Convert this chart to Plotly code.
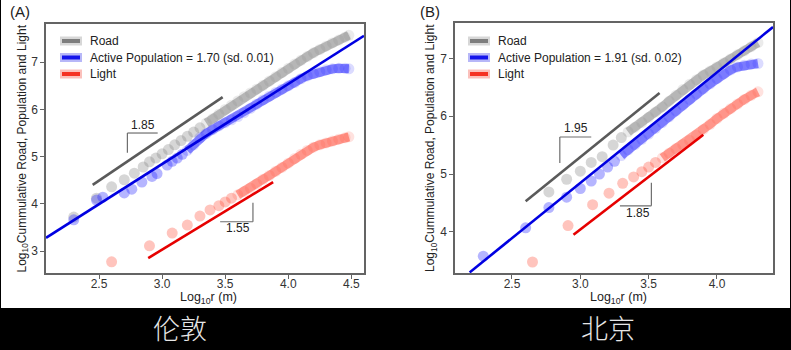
import plotly.graph_objects as go

# ---------------- data (log10 r, log10 cumulative) ----------------
# London (A)
lon_road_x = [2.30, 2.48, 2.60, 2.70, 2.78, 2.85, 2.90, 2.95, 3.00, 3.05, 3.10, 3.15, 3.20, 3.25,
              3.30, 3.35, 3.40, 3.45, 3.50, 3.55, 3.60, 3.65, 3.70, 3.75, 3.80, 3.85, 3.90, 3.95,
              4.00, 4.05, 4.10, 4.15, 4.20, 4.25, 4.30, 4.35, 4.40, 4.45, 4.48]
lon_road_y = [3.72, 4.12, 4.36, 4.51, 4.65, 4.78, 4.89, 4.97, 5.06, 5.15, 5.25, 5.34, 5.43, 5.52,
              5.61, 5.71, 5.80, 5.90, 6.00, 6.09, 6.18, 6.27, 6.35, 6.43, 6.51, 6.60, 6.69, 6.78,
              6.87, 6.96, 7.04, 7.12, 7.20, 7.27, 7.34, 7.41, 7.47, 7.53, 7.57]
lon_pop_x = [2.30, 2.48, 2.53, 2.70, 2.76, 2.84, 2.92, 2.96, 3.04, 3.08, 3.12, 3.16, 3.20, 3.25,
             3.30, 3.35, 3.40, 3.45, 3.50, 3.55, 3.60, 3.65, 3.70, 3.75, 3.80, 3.85, 3.90, 3.95,
             4.00, 4.05, 4.10, 4.15, 4.20, 4.25, 4.30, 4.35, 4.40, 4.45, 4.48]
lon_pop_y = [3.66, 4.08, 4.14, 4.23, 4.31, 4.46, 4.58, 4.64, 4.82, 4.90, 4.97, 5.05, 5.13, 5.25,
             5.40, 5.49, 5.57, 5.65, 5.72, 5.78, 5.85, 5.93, 6.02, 6.11, 6.20, 6.28, 6.36, 6.43,
             6.50, 6.57, 6.65, 6.71, 6.76, 6.80, 6.84, 6.86, 6.87, 6.87, 6.86]
lon_light_x = [2.60, 2.90, 3.08, 3.20, 3.30, 3.38, 3.45, 3.50, 3.55, 3.60, 3.65, 3.70, 3.75, 3.80,
               3.85, 3.90, 3.95, 4.00, 4.05, 4.10, 4.15, 4.20, 4.25, 4.30, 4.35, 4.40, 4.45, 4.48]
lon_light_y = [2.77, 3.11, 3.38, 3.55, 3.74, 3.87, 3.96, 4.04, 4.12, 4.19, 4.26, 4.33, 4.42, 4.52,
               4.60, 4.69, 4.77, 4.86, 4.96, 5.05, 5.13, 5.20, 5.25, 5.29, 5.33, 5.37, 5.40, 5.42]

# Beijing (B)
bj_road_x = [2.77, 2.90, 3.00, 3.08, 3.16, 3.24, 3.30, 3.35, 3.40, 3.45, 3.50, 3.55, 3.60, 3.65,
             3.70, 3.75, 3.80, 3.85, 3.90, 3.95, 4.00, 4.05, 4.10, 4.15, 4.20, 4.25, 4.30]
bj_road_y = [4.69, 4.91, 5.05, 5.20, 5.30, 5.50, 5.63, 5.73, 5.81, 5.89, 5.98, 6.07, 6.16, 6.26,
             6.36, 6.46, 6.55, 6.63, 6.71, 6.78, 6.85, 6.92, 6.99, 7.06, 7.13, 7.20, 7.27]
bj_pop_x = [2.29, 2.60, 2.77, 2.90, 3.00, 3.08, 3.14, 3.20, 3.25, 3.30, 3.35, 3.40, 3.45, 3.50,
            3.55, 3.60, 3.65, 3.70, 3.75, 3.80, 3.85, 3.90, 3.95, 4.00, 4.05, 4.10, 4.15, 4.20,
            4.25, 4.30]
bj_pop_y = [3.58, 4.07, 4.42, 4.60, 4.75, 4.88, 5.00, 5.12, 5.22, 5.32, 5.42, 5.51, 5.60, 5.69,
            5.79, 5.89, 5.99, 6.09, 6.19, 6.29, 6.38, 6.47, 6.56, 6.65, 6.73, 6.80, 6.85, 6.88,
            6.90, 6.91]
bj_light_x = [2.65, 2.91, 3.09, 3.21, 3.31, 3.39, 3.45, 3.50, 3.55, 3.60, 3.65, 3.70, 3.75, 3.80,
              3.85, 3.90, 3.95, 4.00, 4.05, 4.10, 4.15, 4.20, 4.25, 4.30]
bj_light_y = [3.48, 4.11, 4.47, 4.67, 4.84, 4.95, 5.04, 5.12, 5.20, 5.28, 5.36, 5.44, 5.51, 5.58,
              5.67, 5.77, 5.86, 5.96, 6.05, 6.13, 6.21, 6.29, 6.36, 6.42]

# fitted population lines: [x0, x1], [y0, y1]
lon_fit_x = [2.08, 4.60]
lon_fit_y = [3.28, 7.56]
bj_fit_x = [2.19, 4.41]
bj_fit_y = [3.30, 7.54]

# slope guide lines
lon_road_guide_x = [2.45, 3.48]
lon_road_guide_y = [4.40, 6.26]
lon_light_guide_x = [2.89, 3.88]
lon_light_guide_y = [2.85, 4.46]
bj_road_guide_x = [2.60, 3.58]
bj_road_guide_y = [4.53, 6.40]
bj_light_guide_x = [2.95, 3.90]
bj_light_guide_y = [3.95, 5.68]

# slope brackets: (corner x, corner y, other x, other y, label, label x, label y)
lon_brackets = [(2.725, 5.50, 2.965, 5.08, "1.85", 2.85, 5.68),
                (3.72, 3.62, 3.46, 4.02, "1.55", 3.60, 3.48)]
bj_brackets = [(2.85, 5.64, 3.08, 5.19, "1.95", 2.97, 5.79),
               (3.52, 4.45, 3.29, 4.85, "1.85", 3.42, 4.33)]

pop_labels = ["Active Population = 1.70 (sd. 0.01)", "Active Population = 1.91 (sd. 0.02)"]
city_names = ["伦敦", "北京"]
panel_tags = ["(A)", "(B)"]
x_ticks = [[2.5, 3.0, 3.5, 4.0, 4.5], [2.5, 3.0, 3.5, 4.0]]
y_ticks = [[3, 4, 5, 6, 7], [4, 5, 6, 7]]
x_ranges = [[2.08, 4.60], [2.083, 4.41]]
y_ranges = [[2.534, 7.81], [3.29, 7.61]]

# ---------------- styling ----------------
W, H = 791, 350
BLUE, RED = "rgb(30,30,255)", "rgb(255,75,55)"
FONT = "Liberation Sans, Arial, sans-serif"

fig = go.Figure()


def add_series(x, y, color, xa, ya, band_from):
    bx = [a for a in x if a >= band_from]
    by = [b for a, b in zip(x, y) if a >= band_from]
    fig.add_trace(go.Scatter(x=bx, y=by, mode="lines", xaxis=xa, yaxis=ya,
                             line=dict(color=color, width=9), opacity=0.5,
                             showlegend=False, hoverinfo="skip"))
    op = [0.33 if a < band_from else 0.16 for a in x]
    fig.add_trace(go.Scatter(x=x, y=y, mode="markers", xaxis=xa, yaxis=ya,
                             marker=dict(size=11, color=color, opacity=op, line=dict(width=0)),
                             showlegend=False, hoverinfo="skip"))


def add_line(x, y, color, xa, ya, width=2.6):
    fig.add_trace(go.Scatter(x=x, y=y, mode="lines", xaxis=xa, yaxis=ya,
                             line=dict(color=color, width=width), cliponaxis=True,
                             showlegend=False, hoverinfo="skip"))


panels = [
    dict(road=(lon_road_x, lon_road_y), pop=(lon_pop_x, lon_pop_y), light=(lon_light_x, lon_light_y),
         fit=(lon_fit_x, lon_fit_y), rg=(lon_road_guide_x, lon_road_guide_y),
         lg=(lon_light_guide_x, lon_light_guide_y), br=lon_brackets, xa="x", ya="y",
         band=(3.35, 3.2, 3.6)),
    dict(road=(bj_road_x, bj_road_y), pop=(bj_pop_x, bj_pop_y), light=(bj_light_x, bj_light_y),
         fit=(bj_fit_x, bj_fit_y), rg=(bj_road_guide_x, bj_road_guide_y),
         lg=(bj_light_guide_x, bj_light_guide_y), br=bj_brackets, xa="x2", ya="y2",
         band=(3.35, 3.3, 3.6)),
]

for p in panels:
    add_series(*p["road"], "rgb(130,130,130)", p["xa"], p["ya"], p["band"][0])
    add_series(*p["pop"], BLUE, p["xa"], p["ya"], p["band"][1])
    add_series(*p["light"], RED, p["xa"], p["ya"], p["band"][2])
    add_line(*p["rg"], "rgb(90,90,90)", p["xa"], p["ya"])
    add_line(*p["fit"], "rgb(0,0,225)", p["xa"], p["ya"])
    add_line(*p["lg"], "rgb(230,0,0)", p["xa"], p["ya"])

shapes = []
annotations = []

# white page area over black background
shapes.append(dict(type="rect", xref="paper", yref="paper", x0=1 / W, x1=1 - 1 / W,
                   y0=1 - 308 / H, y1=1, fillcolor="white", line=dict(width=0), layer="below"))

px_domains = [(46, 364, 24, 273), (455, 773, 23, 273)]
tag_px = [(20, 12), (430, 12)]
ytitle_px = [22, 431]
city_px = [180, 608]


def paper_text(x, y, text, size, color="#222", family=FONT, angle=0, weight=None):
    f = dict(family=family, size=size, color=color)
    if weight:
        f["weight"] = weight
    annotations.append(dict(x=x / W, y=1 - y / H, xref="paper", yref="paper", text=text,
                            showarrow=False, xanchor="center", yanchor="middle", textangle=angle,
                            font=f))


for i, p in enumerate(panels):
    xa, ya = p["xa"], p["ya"]
    # brackets
    for cx, cy, ox, oy, lab, lx, ly in p["br"]:
        shapes.append(dict(type="line", xref=xa, yref=ya, x0=cx, y0=cy, x1=ox, y1=cy,
                           line=dict(color="rgb(110,110,110)", width=1.2)))
        shapes.append(dict(type="line", xref=xa, yref=ya, x0=cx, y0=cy, x1=cx, y1=oy,
                           line=dict(color="rgb(110,110,110)", width=1.2)))
        annotations.append(dict(x=lx, y=ly, xref=xa, yref=ya, text=lab, showarrow=False,
                                xanchor="center", yanchor="middle",
                                font=dict(family=FONT, size=12, color="#222")))
    # legend
    x0p, x1p, y0p, y1p = px_domains[i]
    dw, dh = x1p - x0p, y1p - y0p
    sym_x0 = (16 if i == 0 else 15) / dw
    sym_x1 = sym_x0 + 18 / dw
    txt_x = sym_x1 + 8 / dw
    leg = [("Road", "rgb(125,125,125)"), (pop_labels[i], "rgb(20,20,235)"), ("Light", "rgb(245,50,35)")]
    for k, (lab, col) in enumerate(leg):
        yy = (y1p - (41 + 16.5 * k)) / dh
        shapes.append(dict(type="line", xref=xa + " domain", yref=ya + " domain",
                           x0=sym_x0 - 2 / dw, x1=sym_x1 + 2 / dw, y0=yy, y1=yy,
                           line=dict(color=col, width=9), opacity=0.3))
        shapes.append(dict(type="line", xref=xa + " domain", yref=ya + " domain",
                           x0=sym_x0, x1=sym_x1, y0=yy, y1=yy,
                           line=dict(color=col, width=4)))
        annotations.append(dict(x=txt_x, y=yy, xref=xa + " domain", yref=ya + " domain",
                                text=lab, showarrow=False, xanchor="left", yanchor="middle",
                                font=dict(family=FONT, size=12, color="#222")))
    paper_text(tag_px[i][0], tag_px[i][1], panel_tags[i], 15)
    paper_text(ytitle_px[i], (y0p + y1p) / 2, "Log<sub>10</sub>Cummulative Road, Population and Light",
               12, angle=-90)
    paper_text((x0p + x1p) / 2 + 4, 298, "Log<sub>10</sub>r (m)", 12.5)
    paper_text(city_px[i], 327, city_names[i], 27, color="#e6e6e6", family="Noto Sans CJK SC",
               weight=300)

axis_common = dict(showgrid=False, zeroline=False, showline=True, mirror=True,
                   linecolor="rgb(100,100,100)", linewidth=1.5, ticks="outside",
                   ticklen=4, tickwidth=1, tickcolor="rgb(100,100,100)",
                   tickfont=dict(family=FONT, size=12, color="#333"))

layout = dict(width=W, height=H, margin=dict(l=0, r=0, t=0, b=0),
              paper_bgcolor="black", plot_bgcolor="white", showlegend=False,
              shapes=shapes, annotations=annotations)

for i in range(2):
    x0p, x1p, y0p, y1p = px_domains[i]
    suffix = "" if i == 0 else "2"
    layout["xaxis" + suffix] = dict(axis_common, domain=[x0p / W, x1p / W], range=x_ranges[i],
                                    tickvals=x_ticks[i], ticktext=["%.1f" % v for v in x_ticks[i]],
                                    ticklabelstandoff=-5, anchor="y" + suffix)
    layout["yaxis" + suffix] = dict(axis_common, domain=[1 - y1p / H, 1 - y0p / H], range=y_ranges[i],
                                    tickvals=y_ticks[i], ticktext=[str(v) for v in y_ticks[i]],
                                    anchor="x" + suffix)

fig.update_layout(**layout)
fig.write_html("out.html")
